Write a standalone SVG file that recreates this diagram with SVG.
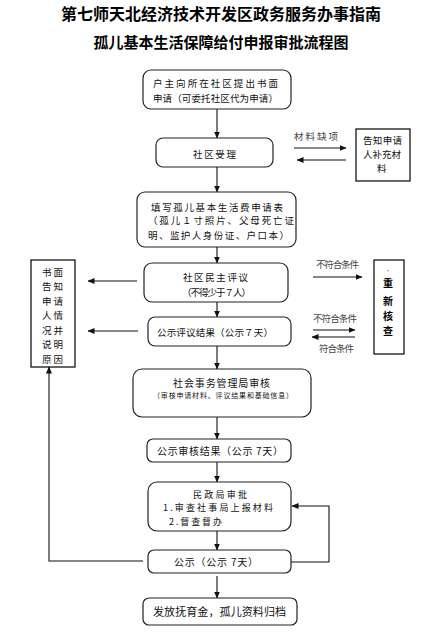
<svg xmlns="http://www.w3.org/2000/svg" width="441" height="640" viewBox="0 0 441 640">
<style>
.t{font-family:"Noto Sans CJK SC","Noto Sans",sans-serif;fill:#111;font-size:9.5px;}
.h{font-weight:bold;fill:#000;}
.r{fill:#fff;stroke:#222;stroke-width:1.2;}
.s{fill:#fff;stroke:#000;stroke-width:1.2;}
.c{fill:none;stroke:#111;stroke-width:1.1;}
.l{font-size:9.5px;fill:#444;font-family:"Liberation Serif","Noto Sans CJK SC",serif;}
</style>
<defs>
<marker id="a" markerWidth="7" markerHeight="6" refX="6.5" refY="3" orient="auto" markerUnits="userSpaceOnUse"><path d="M0,0 L7,3 L0,6 Z" fill="#111"/></marker>
</defs>
<rect width="441" height="640" fill="#fff"/>
<g id="title">
<text class="t h" x="221" y="20" text-anchor="middle" style="font-size:16px">第七师天北经济技术开发区政务服务办事指南</text>
<text class="t h" x="221" y="48" text-anchor="middle" style="font-size:15px">孤儿基本生活保障给付申报审批流程图</text>
</g>
<g id="connectors" class="c">
<path d="M217,109 V138" marker-end="url(#a)"/>
<path d="M217,167 V192" marker-end="url(#a)"/>
<path d="M294,148 H346" marker-end="url(#a)"/>
<path d="M346,160 H297" marker-end="url(#a)"/>
<path d="M217,247 V263" marker-end="url(#a)"/>
<path d="M137,281 H88" marker-end="url(#a)"/>
<path d="M138,331 H88" marker-end="url(#a)"/>
<path d="M217,302 V317" marker-end="url(#a)"/>
<path d="M313,277 H362" marker-end="url(#a)"/>
<path d="M313,330 H355" marker-end="url(#a)"/>
<path d="M355,337 H312" marker-end="url(#a)"/>
<path d="M217,346 V369" marker-end="url(#a)"/>
<path d="M217,417 V439" marker-end="url(#a)"/>
<path d="M217,462 V482" marker-end="url(#a)"/>
<path d="M217,531 V550" marker-end="url(#a)"/>
<path d="M291,562 H329 V506 H292" marker-end="url(#a)"/>
<path d="M143,561 H49 V367" marker-end="url(#a)"/>
<path d="M217,576 V598" marker-end="url(#a)"/>
</g>
<g id="labels">
<text class="l" x="294" y="139.5" textLength="44">材料缺项</text>
<text class="l" x="316" y="267.5" textLength="43">不符合条件</text>
<text class="l" x="313" y="321.5" textLength="44">不符合条件</text>
<text class="l" x="319" y="351.5" textLength="35">符合条件</text>
</g>
<g id="n1">
<rect class="r" x="143" y="70" width="148" height="39" rx="8"/>
<text class="t" x="153" y="87" textLength="125">户主向所在社区提出书面</text>
<text class="t" x="153" y="102" textLength="125">申请（可委托社区代为申请）</text>
</g>
<g id="n2">
<rect class="r" x="156" y="138" width="117" height="29" rx="7"/>
<text class="t" x="193" y="157.5" textLength="43">社区受理</text>
</g>
<g id="n3">
<rect class="s" x="356" y="129" width="54" height="52"/>
<text class="t" x="363" y="143.5" textLength="39">告知申请</text>
<text class="t" x="363" y="157.5" textLength="38">人补充材</text>
<text class="t" x="377" y="171.5">料</text>
</g>
<g id="n4">
<rect class="r" x="137" y="192" width="159" height="55" rx="8"/>
<text class="t" x="151" y="210.5" textLength="132">填写孤儿基本生活费申请表</text>
<text class="t" x="148" y="223.5" textLength="146">（孤儿１寸照片、父母死亡证</text>
<text class="t" x="148" y="238.5" textLength="141">明、监护人身份证、户口本）</text>
</g>
<g id="n5">
<rect class="r" x="144" y="263" width="144" height="39" rx="8"/>
<text class="t" x="183" y="280.5" textLength="65">社区民主评议</text>
<text class="t" x="182" y="295.5" textLength="69">（不得少于７人）</text>
</g>
<g id="n6">
<rect class="r" x="148" y="317" width="143" height="29" rx="7"/>
<text class="t" x="157" y="335.5" textLength="116">公示评议结果（公示７天）</text>
</g>
<g id="n7">
<rect class="s" x="31" y="260" width="44" height="107"/>
<text class="t" x="42" y="275.5" textLength="21">书面</text>
<text class="t" x="42" y="290" textLength="21">告知</text>
<text class="t" x="42" y="304.5" textLength="21">申请</text>
<text class="t" x="42" y="319" textLength="21">人情</text>
<text class="t" x="42" y="333.5" textLength="21">况并</text>
<text class="t" x="42" y="348" textLength="21">说明</text>
<text class="t" x="42" y="362.5" textLength="21">原因</text>
</g>
<g id="n8">
<rect class="s" x="374" y="260" width="30" height="94"/>
<text class="t" x="388" y="273" text-anchor="middle" style="fill:#888;font-size:7px">·</text>
<text class="t h" x="388" y="287" text-anchor="middle" style="font-size:10px">重</text>
<text class="t h" x="388" y="305" text-anchor="middle" style="font-size:10px">新</text>
<text class="t h" x="388" y="320" text-anchor="middle" style="font-size:10px">核</text>
<text class="t h" x="388" y="335" text-anchor="middle" style="font-size:10px">查</text>
</g>
<g id="n9">
<rect class="r" x="133" y="369" width="178" height="48" rx="9"/>
<text class="t" x="173" y="386.5" textLength="97" style="font-size:10px">社会事务管理局审核</text>
<text class="t" x="153" y="397.5" textLength="140" style="font-size:7px">（审核申请材料、评议结果和基础信息）</text>
</g>
<g id="n10">
<rect class="r" x="147" y="439" width="144" height="23" rx="6"/>
<text class="t" x="157" y="454.5" textLength="126" style="font-size:10px">公示审核结果（公示 7天）</text>
</g>
<g id="n11">
<rect class="r" x="148" y="482" width="143" height="49" rx="9"/>
<text class="t" x="193" y="497.5" textLength="54" style="font-size:9px">民政局审批</text>
<text class="t" x="163" y="511" textLength="110" style="font-size:9px">1.审查社事局上报材料</text>
<text class="t" x="169" y="524.5" textLength="53" style="font-size:9px">2.督查督办</text>
</g>
<g id="n12">
<rect class="r" x="148" y="550" width="143" height="23" rx="6"/>
<text class="t" x="174" y="565.5" textLength="84" style="font-size:10px">公示（公示 7天）</text>
</g>
<g id="n13">
<rect class="r" x="143" y="598" width="154" height="27" rx="6"/>
<text class="t" x="153" y="616" textLength="133" style="font-size:11px">发放抚育金，孤儿资料归档</text>
</g>
</svg>
